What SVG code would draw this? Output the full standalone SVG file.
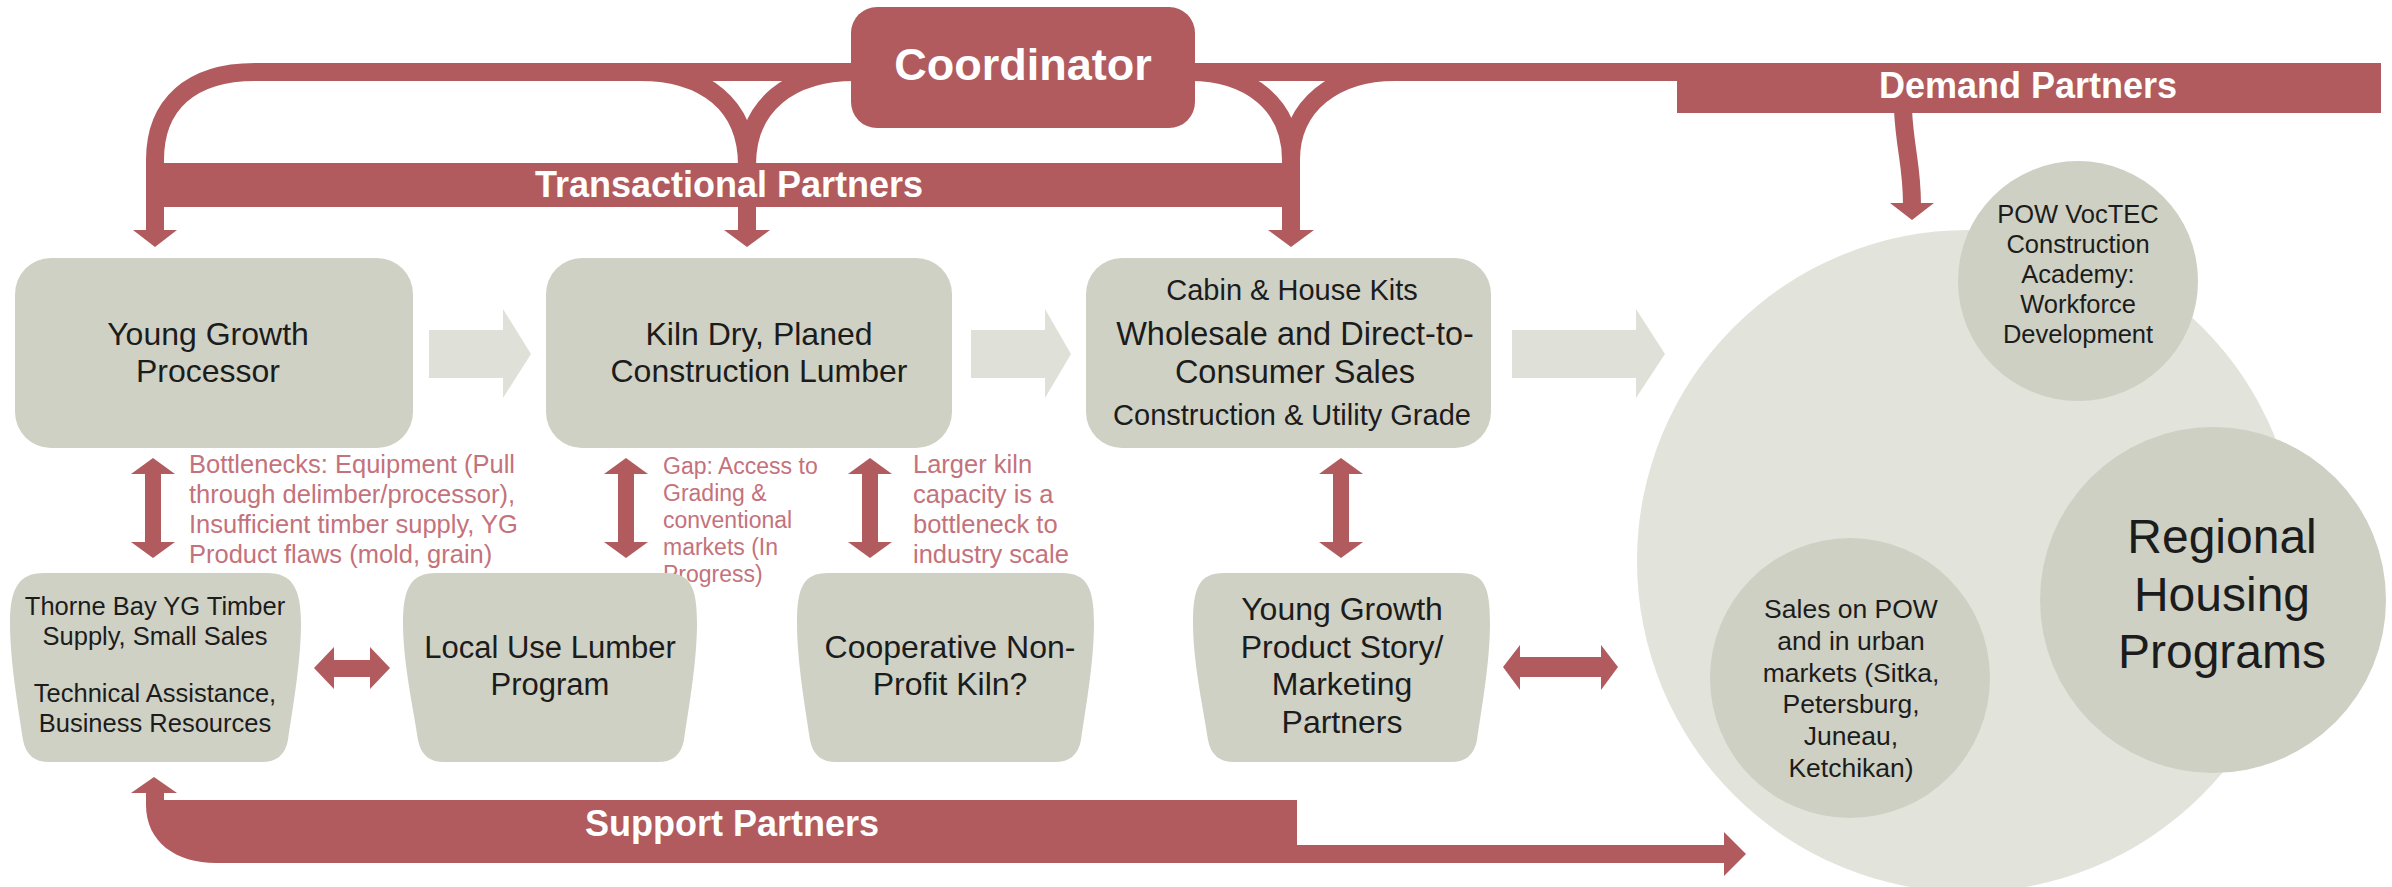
<svg xmlns="http://www.w3.org/2000/svg" width="2392" height="887" viewBox="0 0 2392 887">
  <style>
    .band { fill: #b15b5f; }
    .bandline { fill: none; stroke: #b15b5f; stroke-width: 18; }
    .box { fill: #cfd1c5; }
    .flow { fill: #dfe1d8; }
    .red { fill: #b15b5f; }
    .outer { fill: #e2e4db; }
    .inner { fill: #cdd0c3; }
    text { font-family: "Liberation Sans", Arial, Helvetica, sans-serif; text-anchor: middle; }
    .hdr { fill: #ffffff; font-weight: bold; font-size: 36px; }
    .lbl { fill: #1c1c1c; font-size: 32px; }
    .sm { fill: #1c1c1c; font-size: 29px; }
    .note { fill: #c4727b; font-size: 25.5px; text-anchor: start; }
  </style>
  <defs>
    <!-- vertical double-headed arrow, centred on x=0, from y=0 to y=100 -->
    <polygon id="vdouble" points="0,0 22,16 8,16 8,84 22,84 0,100 -22,84 -8,84 -8,16 -22,16"/>
  </defs>

  <!-- connectors -->
  <g id="connectors">
    <!-- coordinator distribution lines to transactional partners -->
    <path class="bandline" d="M 155 232 L 155 160 C 155 105 190 72 255 72 L 1710 72"/>
    <path class="bandline" d="M 640 72 C 705 72 747 105 747 165 L 747 232"/>
    <path class="bandline" d="M 855 72 C 790 72 747 105 747 165"/>
    <path class="bandline" d="M 1190 72 C 1250 72 1291 105 1291 160 L 1291 232"/>
    <path class="bandline" d="M 1395 72 C 1335 72 1291 105 1291 160"/>
    <polygon class="red" points="133,230 177,230 155,247"/>
    <polygon class="red" points="724,230 770,230 747,247"/>
    <polygon class="red" points="1268,230 1314,230 1291,247"/>

    <!-- transactional partners bar -->
    <rect class="band" x="148" y="163" width="1143" height="44"/>
    <text class="hdr" x="729" y="197">Transactional Partners</text>

    <!-- demand partners bar and arrow -->
    <rect class="band" x="1677" y="63" width="704" height="50"/>
    <text class="hdr" x="2028" y="98">Demand Partners</text>
    <path class="bandline" d="M 1903 110 C 1905 150 1912 165 1912 205"/>
    <polygon class="red" points="1890,203 1934,203 1912,220"/>

    <!-- support partners bar -->
    <path class="band" d="M 146 790 L 146 805 C 146 842 176 863 216 863 L 1724 863 L 1724 876 L 1746 854 L 1724 832 L 1724 845 L 1297 845 L 1297 800 L 164 800 L 164 790 Z"/>
    <polygon class="red" points="131,793 177,793 154,777"/>
    <text class="hdr" x="732" y="836">Support Partners</text>

    <!-- process flow arrows -->
    <polygon class="flow" points="429,330 503,330 503,309 531,354 503,398 503,378 429,378"/>
    <polygon class="flow" points="971,330 1045,330 1045,309 1071,354 1045,398 1045,378 971,378"/>
    <polygon class="flow" points="1512,330 1636,330 1636,309 1665,354 1636,398 1636,378 1512,378"/>

    <!-- vertical two-way links -->
    <use href="#vdouble" class="red" transform="translate(153,458)"/>
    <use href="#vdouble" class="red" transform="translate(626,458)"/>
    <use href="#vdouble" class="red" transform="translate(870,458)"/>
    <use href="#vdouble" class="red" transform="translate(1341,458)"/>

    <!-- horizontal two-way links -->
    <polygon class="red" points="314,668 334,647 334,660 370,660 370,647 390,668 370,689 370,677 334,677 334,689"/>
    <polygon class="red" points="1503,667 1520,645 1520,657 1601,657 1601,645 1618,667 1601,690 1601,677 1520,677 1520,690"/>
  </g>

  <!-- coordinator -->
  <g id="coordinator">
    <rect class="band" x="851" y="7" width="344" height="121" rx="26"/>
    <text class="hdr" x="1023" y="80" style="font-size:45px">Coordinator</text>
  </g>

  <!-- main chain -->
  <g id="young-growth-processor">
    <rect class="box" x="15" y="258" width="398" height="190" rx="36"/>
    <text class="lbl" x="208" y="345">Young Growth</text>
    <text class="lbl" x="208" y="382">Processor</text>
  </g>

  <g id="kiln-dry-lumber">
    <rect class="box" x="546" y="258" width="406" height="190" rx="36"/>
    <text class="lbl" x="759" y="345">Kiln Dry, Planed</text>
    <text class="lbl" x="759" y="382">Construction Lumber</text>
  </g>

  <g id="sales">
    <rect class="box" x="1086" y="258" width="405" height="190" rx="36"/>
    <text class="sm" x="1292" y="300">Cabin &amp; House Kits</text>
    <text class="lbl" x="1295" y="345" style="font-size:32.5px">Wholesale and Direct-to-</text>
    <text class="lbl" x="1295" y="383" style="font-size:32.5px">Consumer Sales</text>
    <text class="sm" x="1292" y="425">Construction &amp; Utility Grade</text>
  </g>

  <!-- notes -->
  <g id="notes">
    <text class="note" x="189" y="473">Bottlenecks: Equipment (Pull</text>
    <text class="note" x="189" y="503">through delimber/processor),</text>
    <text class="note" x="189" y="533">Insufficient timber supply, YG</text>
    <text class="note" x="189" y="563">Product flaws (mold, grain)</text>

    <text class="note" x="663" y="474" style="font-size:23px">Gap: Access to</text>
    <text class="note" x="663" y="501" style="font-size:23px">Grading &amp;</text>
    <text class="note" x="663" y="528" style="font-size:23px">conventional</text>
    <text class="note" x="663" y="555" style="font-size:23px">markets (In</text>
    <text class="note" x="663" y="582" style="font-size:23px">Progress)</text>

    <text class="note" x="913" y="473">Larger kiln</text>
    <text class="note" x="913" y="503">capacity is a</text>
    <text class="note" x="913" y="533">bottleneck to</text>
    <text class="note" x="913" y="563">industry scale</text>
  </g>

  <!-- support row -->
  <g id="thorne-bay">
    <path class="box" d="M 44 573 H 267 C 292 573 301 588 301 623 C 301 663 292 712 288 740 Q 284 762 262 762 H 49 Q 27 762 23 740 C 19 712 10 663 10 623 C 10 588 19 573 44 573 Z"/>
    <text class="lbl" x="155" y="615" style="font-size:25.5px">Thorne Bay YG Timber</text>
    <text class="lbl" x="155" y="645" style="font-size:25.5px">Supply, Small Sales</text>
    <text class="lbl" x="155" y="702" style="font-size:25.5px">Technical Assistance,</text>
    <text class="lbl" x="155" y="732" style="font-size:25.5px">Business Resources</text>
  </g>

  <g id="local-use-lumber">
    <path class="box" d="M 436 573 H 666 C 691 573 697 588 697 623 C 697 663 688 712 684 740 Q 680 762 658 762 H 444 Q 422 762 418 740 C 414 712 403 663 403 623 C 403 588 411 573 436 573 Z"/>
    <text class="lbl" x="550" y="658" style="font-size:31px">Local Use Lumber</text>
    <text class="lbl" x="550" y="695" style="font-size:31px">Program</text>
  </g>

  <g id="cooperative-kiln">
    <path class="box" d="M 828 573 H 1062 C 1087 573 1094 588 1094 623 C 1094 663 1085 712 1081 740 Q 1077 762 1055 762 H 836 Q 814 762 810 740 C 806 712 797 663 797 623 C 797 588 803 573 828 573 Z"/>
    <text class="lbl" x="950" y="658">Cooperative Non-</text>
    <text class="lbl" x="950" y="695">Profit Kiln?</text>
  </g>

  <g id="product-story">
    <path class="box" d="M 1224 573 H 1460 C 1485 573 1490 588 1490 623 C 1490 663 1481 712 1477 740 Q 1473 762 1451 762 H 1234 Q 1212 762 1208 740 C 1204 712 1193 663 1193 623 C 1193 588 1199 573 1224 573 Z"/>
    <text class="lbl" x="1342" y="620">Young Growth</text>
    <text class="lbl" x="1342" y="658">Product Story/</text>
    <text class="lbl" x="1342" y="695">Marketing</text>
    <text class="lbl" x="1342" y="733">Partners</text>
  </g>

  <!-- markets -->
  <g id="markets">
    <circle class="outer" cx="1968" cy="561" r="331"/>
  </g>

  <g id="voctec">
    <circle class="inner" cx="2078" cy="281" r="120"/>
    <text class="lbl" x="2078" y="223" style="font-size:25.5px">POW VocTEC</text>
    <text class="lbl" x="2078" y="253" style="font-size:25.5px">Construction</text>
    <text class="lbl" x="2078" y="283" style="font-size:25.5px">Academy:</text>
    <text class="lbl" x="2078" y="313" style="font-size:25.5px">Workforce</text>
    <text class="lbl" x="2078" y="343" style="font-size:25.5px">Development</text>
  </g>

  <g id="regional-housing">
    <circle class="inner" cx="2213" cy="600" r="173"/>
    <text class="lbl" x="2222" y="553" style="font-size:48px">Regional</text>
    <text class="lbl" x="2222" y="611" style="font-size:48px">Housing</text>
    <text class="lbl" x="2222" y="668" style="font-size:48px">Programs</text>
  </g>

  <g id="urban-sales">
    <circle class="inner" cx="1850" cy="678" r="140"/>
    <text class="lbl" x="1851" y="618" style="font-size:26.5px">Sales on POW</text>
    <text class="lbl" x="1851" y="650" style="font-size:26.5px">and in urban</text>
    <text class="lbl" x="1851" y="682" style="font-size:26.5px">markets (Sitka,</text>
    <text class="lbl" x="1851" y="713" style="font-size:26.5px">Petersburg,</text>
    <text class="lbl" x="1851" y="745" style="font-size:26.5px">Juneau,</text>
    <text class="lbl" x="1851" y="777" style="font-size:26.5px">Ketchikan)</text>
  </g>
</svg>
